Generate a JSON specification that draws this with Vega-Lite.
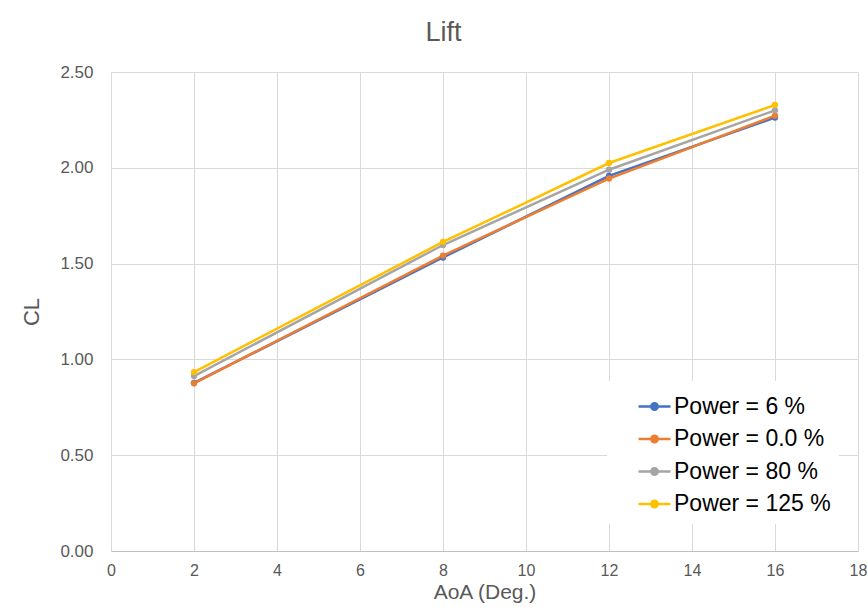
{
  "$schema": "https://vega.github.io/schema/vega-lite/v6.json",
  "width": 747,
  "height": 479,
  "autosize": {"type": "none"},
  "padding": {"left": 111, "top": 72, "right": 10, "bottom": 64},
  "background": "white",
  "title": {
    "text": "Lift",
    "fontSize": 27,
    "font": "Liberation Sans",
    "fontWeight": "normal",
    "color": "#595959",
    "offset": 16,
    "dx": -41
  },
  "data": {
    "values": [
      {"series": "Power = 6 %", "k": 0, "AoA": 2, "CL": 0.877},
      {"series": "Power = 6 %", "k": 0, "AoA": 8, "CL": 1.532},
      {"series": "Power = 6 %", "k": 0, "AoA": 12, "CL": 1.958},
      {"series": "Power = 6 %", "k": 0, "AoA": 16, "CL": 2.262},
      {"series": "Power = 0.0 %", "k": 1, "AoA": 2, "CL": 0.875},
      {"series": "Power = 0.0 %", "k": 1, "AoA": 8, "CL": 1.542},
      {"series": "Power = 0.0 %", "k": 1, "AoA": 12, "CL": 1.944},
      {"series": "Power = 0.0 %", "k": 1, "AoA": 16, "CL": 2.272},
      {"series": "Power = 80 %", "k": 2, "AoA": 2, "CL": 0.913},
      {"series": "Power = 80 %", "k": 2, "AoA": 8, "CL": 1.597},
      {"series": "Power = 80 %", "k": 2, "AoA": 12, "CL": 1.99},
      {"series": "Power = 80 %", "k": 2, "AoA": 16, "CL": 2.30},
      {"series": "Power = 125 %", "k": 3, "AoA": 2, "CL": 0.934},
      {"series": "Power = 125 %", "k": 3, "AoA": 8, "CL": 1.613},
      {"series": "Power = 125 %", "k": 3, "AoA": 12, "CL": 2.025},
      {"series": "Power = 125 %", "k": 3, "AoA": 16, "CL": 2.328}
    ]
  },
  "mark": {
    "type": "line",
    "strokeWidth": 2.5,
    "point": {"filled": true, "size": 40, "opacity": 1}
  },
  "encoding": {
    "x": {
      "field": "AoA",
      "type": "quantitative",
      "scale": {"domain": [0, 18], "nice": false},
      "axis": {
        "values": [0, 2, 4, 6, 8, 10, 12, 14, 16, 18],
        "title": "AoA (Deg.)",
        "titleFontSize": 21,
        "titleFont": "Liberation Sans",
        "titleFontWeight": "normal",
        "titleColor": "#595959",
        "titlePadding": 3,
        "labelFontSize": 16,
        "labelFont": "Liberation Sans",
        "labelColor": "#595959",
        "labelPadding": 11,
        "ticks": false,
        "domainColor": "#BFBFBF",
        "gridColor": "#D9D9D9",
        "labelFlush": false
      }
    },
    "y": {
      "field": "CL",
      "type": "quantitative",
      "scale": {"domain": [0, 2.5], "nice": false},
      "axis": {
        "values": [0, 0.5, 1, 1.5, 2, 2.5],
        "format": ".2f",
        "title": "CL",
        "titleFontSize": 22,
        "titleFont": "Liberation Sans",
        "titleFontWeight": "normal",
        "titleColor": "#595959",
        "titlePadding": 16,
        "labelFontSize": 17,
        "labelFont": "Liberation Sans",
        "labelColor": "#595959",
        "labelPadding": 18,
        "ticks": false,
        "domain": false,
        "gridColor": "#D9D9D9"
      }
    },
    "color": {
      "field": "series",
      "type": "nominal",
      "sort": ["Power = 6 %", "Power = 0.0 %", "Power = 80 %", "Power = 125 %"],
      "scale": {
        "domain": ["Power = 6 %", "Power = 0.0 %", "Power = 80 %", "Power = 125 %"],
        "range": ["#4472C4", "#ED7D31", "#A5A5A5", "#FFC000"]
      },
      "legend": {
        "title": null,
        "orient": "none",
        "legendX": 496,
        "legendY": 309,
        "fillColor": "white",
        "padding": 8,
        "labelFontSize": 23,
        "labelFont": "Liberation Sans",
        "labelColor": "#000000",
        "labelOffset": 2,
        "rowPadding": 2.5,
        "symbolType": "M-1,0H1M-0.2,0a0.2,0.2 0 1,0 0.4,0a0.2,0.2 0 1,0 -0.4,0",
        "symbolSize": 1024,
        "symbolStrokeWidth": 2.5,
        "symbolOffset": 22,
        "encode": {
          "symbols": {"update": {"fill": {"scale": "color", "field": "value"}}}
        }
      }
    },
    "order": {"field": "k", "type": "quantitative"}
  },
  "config": {
    "view": {"stroke": "#D9D9D9"}
  }
}
